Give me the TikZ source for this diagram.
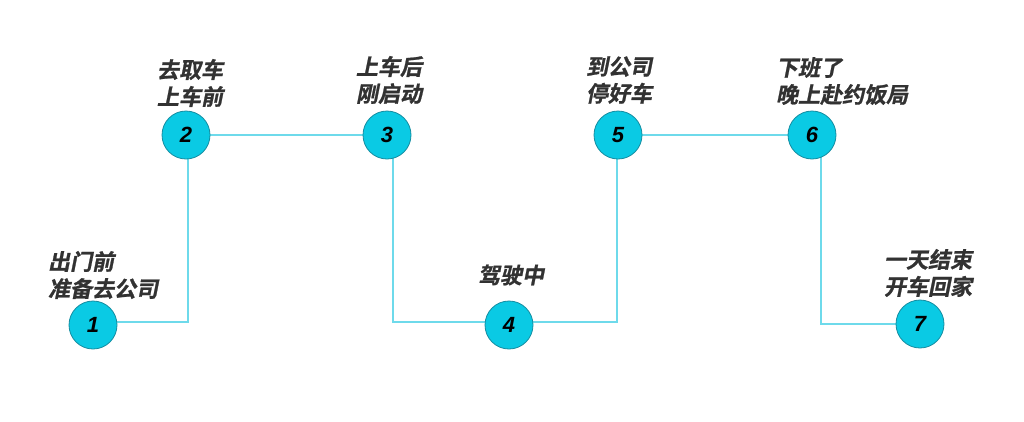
\documentclass[tikz,border=0pt]{standalone}
\usepackage{fontspec}
\newfontfamily\cjk[FakeSlant=0.2,FakeBold=1]{Noto Sans CJK SC Bold}
\newfontfamily\numfont{Liberation Sans}
\pgfdeclarelayer{bg}
\pgfsetlayers{bg,main}
\definecolor{circfill}{RGB}{10,202,228}
\definecolor{circline}{RGB}{20,140,160}
\definecolor{linkc}{RGB}{110,218,235}
\definecolor{labc}{RGB}{50,50,50}
\tikzset{
  stepnode/.style={circle,draw=circline,line width=0.8pt,fill=circfill,minimum size=48pt,inner sep=0pt,
    font=\numfont\bfseries\itshape\fontsize{22}{22}\selectfont,text=black},
  lab/.style={font=\cjk\fontsize{22}{27}\selectfont,text=labc,align=left,inner sep=0pt},
  link/.style={draw=linkc,line width=1.3pt}
}
\begin{document}
\begin{tikzpicture}[x=1pt,y=-1pt]
\useasboundingbox (0,0) rectangle (1024,421);
\node[stepnode] (n1) at (93,325) {1};
\node[stepnode] (n2) at (186,135) {2};
\node[stepnode] (n3) at (387,135) {3};
\node[stepnode] (n4) at (509,325) {4};
\node[stepnode] (n5) at (618,135) {5};
\node[stepnode] (n6) at (812,135) {6};
\node[stepnode] (n7) at (920,324) {7};
\node[lab] (l1) at (103,275) {出门前\\准备去公司};
\node[lab] (l2) at (190,83) {去取车\\上车前};
\node[lab] (l3) at (389,80) {上车后\\刚启动};
\node[lab] (l4) at (511,275) {驾驶中};
\node[lab] (l5) at (619,80) {到公司\\停好车};
\node[lab] (l6) at (842,81) {下班了\\晚上赴约饭局};
\node[lab] (l7) at (928,273) {一天结束\\开车回家};
\coordinate (c1) at (188,322);
\coordinate (c3) at (393,322);
\coordinate (c4) at (617,322);
\coordinate (c6) at (821,324);
\begin{pgfonlayer}{bg}
\draw[link] (c1 -| n1) -- (c1) -- (c1 |- n2);
\draw[link] (n2) -- (n3);
\draw[link] (c3 |- n3) -- (c3) -- (c3 -| n4);
\draw[link] (c4 -| n4) -- (c4) -- (c4 |- n5);
\draw[link] (n5) -- (n6);
\draw[link] (c6 |- n6) -- (c6) -- (n7);
\end{pgfonlayer}
\end{tikzpicture}
\end{document}
